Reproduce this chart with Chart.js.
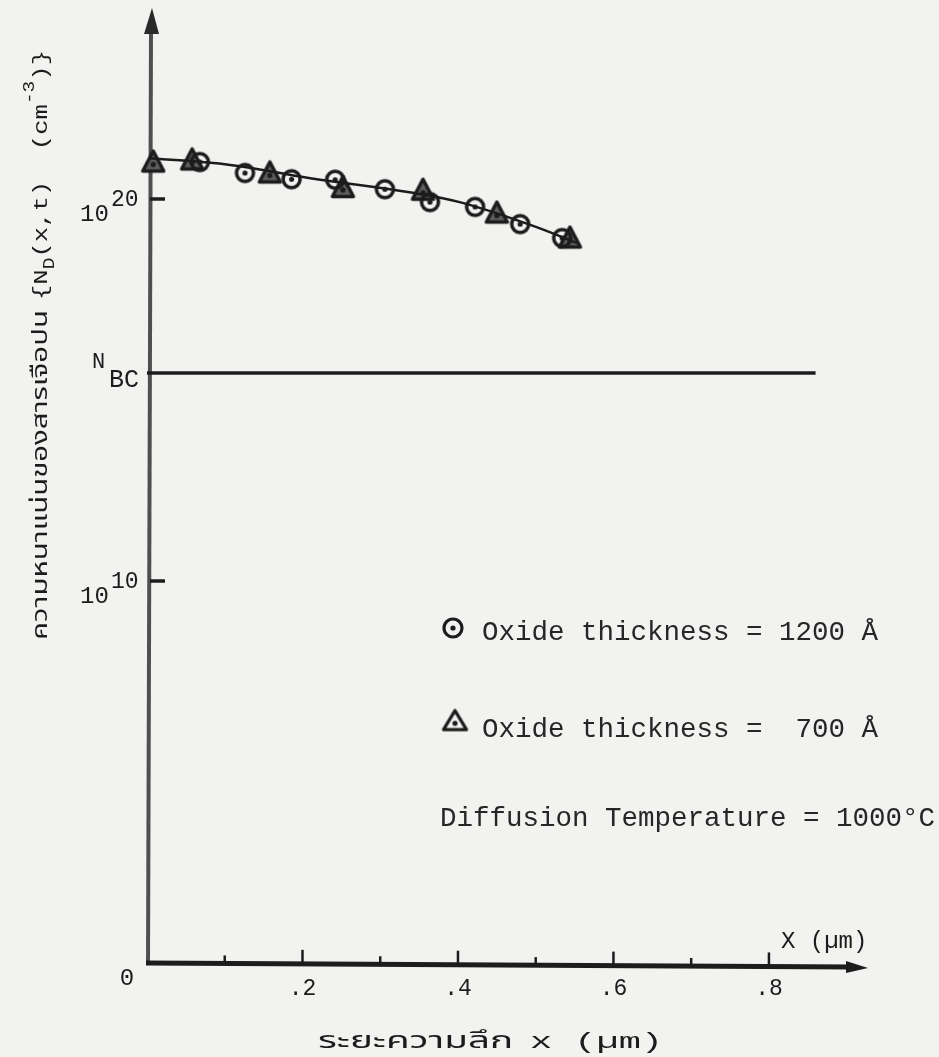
<!DOCTYPE html>
<html lang="th">
<head>
    <meta charset="UTF-8">
    <title>Impurity concentration profile</title>
    <style>
        html, body { margin: 0; padding: 0; background: #f3f3f1; }
        canvas { display: block; }
    </style>
</head>
<body>
    <canvas id="profileChart" width="939" height="1057"></canvas>
    <script src="https://cdn.jsdelivr.net/npm/chart.js@4.4.1/dist/chart.umd.min.js"></script>
    <script>
        // depth x (um) and concentration N_D (cm^-3)
        const xCircle = [0.068, 0.126, 0.186, 0.242, 0.306, 0.364, 0.422, 0.48, 0.534];
        const yCircle = [9.3e20, 4.8e20, 3.3e20, 3.2e20, 1.8e20, 8.3e19, 6.2e19, 2.2e19, 9.5e18];
        const xTriangle = [0.008, 0.058, 0.158, 0.252, 0.355, 0.45, 0.544];
        const yTriangle = [9.3e20, 1.05e21, 4.8e20, 2.0e20, 1.7e20, 4.3e19, 9.5e18];
        // hand drawn curve through the points
        const xFit = [0.004, 0.107, 0.21, 0.342, 0.406, 0.493, 0.553];
        const yFit = [1.17e21, 7.8e20, 3.5e20, 1.45e20, 7.9e19, 2.1e19, 7.1e18];
        // background concentration N_BC
        const nbcX = [0, 0.86];
        const nbcLevel = 2.8e15;

        const xTickValues = [0.2, 0.4, 0.6, 0.8];
        const xTickLabels = ['.2', '.4', '.6', '.8'];
        const xMinorTicks = [0.1, 0.3, 0.5, 0.7];
        const yTickValues = [1e20, 1e10];
        const yTickExps = ['20', '10'];

        const xMin = 0, xMax = 0.93, yMin = 1, yMax = 1e25;

        const mono = '"Liberation Mono", "DejaVu Sans Mono", monospace';
        const thai = '"Noto Sans Thai", "Loma", "Garuda", "Norasi", "Noto Sans", sans-serif';
        const ink = '#1c1c1c';

        // marker images
        function circleMark(r, lw) {
            const s = Math.ceil(2 * r + lw + 2);
            const c = document.createElement('canvas');
            c.width = s; c.height = s;
            const g = c.getContext('2d');
            g.strokeStyle = ink; g.lineWidth = lw;
            g.beginPath(); g.arc(s / 2, s / 2, r, 0, Math.PI * 2); g.stroke();
            g.fillStyle = ink;
            g.beginPath(); g.arc(s / 2, s / 2, 2.6, 0, Math.PI * 2); g.fill();
            return c;
        }

        function triangleMark(w, h, lw, fill) {
            const s = Math.ceil(Math.max(w, h) + lw + 2);
            const c = document.createElement('canvas');
            c.width = s; c.height = s;
            const g = c.getContext('2d');
            const cx = s / 2, cy = s / 2;
            g.beginPath();
            g.moveTo(cx, cy - h * 0.55);
            g.lineTo(cx + w / 2, cy + h * 0.45);
            g.lineTo(cx - w / 2, cy + h * 0.45);
            g.closePath();
            if (fill) { g.fillStyle = fill; g.fill(); }
            g.strokeStyle = ink; g.lineWidth = lw; g.lineJoin = 'round';
            g.stroke();
            g.fillStyle = ink;
            g.beginPath(); g.arc(cx, cy + h * 0.12, 2.6, 0, Math.PI * 2); g.fill();
            return c;
        }

        const circleImg = circleMark(8.5, 3.5);
        const triangleImg = triangleMark(21, 20, 3.5, '#5e5e5e');
        const legendCircle = circleMark(9, 3.2);
        const legendTriangle = triangleMark(23, 19, 3.2, null);

        // draws text runs along a line, squeezed to a given length
        function drawRuns(ctx, runs, length) {
            let total = 0;
            runs.forEach(r => { ctx.font = r.font; r.w = ctx.measureText(r.text).width; total += r.w + (r.gap || 0); });
            ctx.save();
            ctx.scale(length / total, 1);
            let x = 0;
            runs.forEach(r => {
                ctx.font = r.font;
                ctx.fillText(r.text, x, r.dy || 0);
                x += r.w + (r.gap || 0);
            });
            ctx.restore();
        }

        const paperAndAxes = {
            id: 'paperAndAxes',
            beforeDraw(chart) {
                const ctx = chart.ctx;
                ctx.save();
                ctx.fillStyle = '#f2f2f0';
                ctx.fillRect(0, 0, chart.width, chart.height);
                ctx.restore();
            },
            beforeDatasetsDraw(chart) {
                const ctx = chart.ctx;
                const xs = chart.scales.x, ys = chart.scales.y;
                const x0 = xs.getPixelForValue(0) + 1;
                const yb = ys.getPixelForValue(yMin);
                const yt = ys.getPixelForValue(yMax);
                const xr = xs.getPixelForValue(xMax);
                ctx.save();
                // y axis with arrow
                ctx.strokeStyle = '#4f4f4f';
                ctx.lineWidth = 4;
                ctx.beginPath(); ctx.moveTo(x0, yb + 2); ctx.lineTo(x0 + 3, yt + 22); ctx.stroke();
                ctx.fillStyle = '#2a2a2a';
                ctx.beginPath();
                ctx.moveTo(x0 + 4, yt); ctx.lineTo(x0 + 11, yt + 26); ctx.lineTo(x0 - 4, yt + 26);
                ctx.closePath(); ctx.fill();
                // x axis with arrow
                ctx.strokeStyle = ink;
                ctx.lineWidth = 5;
                ctx.beginPath(); ctx.moveTo(x0 - 2, yb); ctx.lineTo(xr - 18, yb + 4); ctx.stroke();
                ctx.fillStyle = ink;
                ctx.beginPath();
                ctx.moveTo(xr - 2, yb + 5); ctx.lineTo(xr - 24, yb - 2); ctx.lineTo(xr - 24, yb + 10);
                ctx.closePath(); ctx.fill();
                // x ticks, pointing up
                ctx.lineWidth = 2.5;
                xTickValues.forEach(v => {
                    const px = xs.getPixelForValue(v);
                    const dy = 4 * v / xMax;
                    ctx.beginPath(); ctx.moveTo(px, yb + dy); ctx.lineTo(px, yb + dy - 14); ctx.stroke();
                });
                xMinorTicks.forEach(v => {
                    const px = xs.getPixelForValue(v);
                    const dy = 4 * v / xMax;
                    ctx.beginPath(); ctx.moveTo(px, yb + dy); ctx.lineTo(px, yb + dy - 8); ctx.stroke();
                });
                // y ticks
                ctx.lineWidth = 3.5;
                yTickValues.forEach(v => {
                    const py = ys.getPixelForValue(v);
                    ctx.beginPath(); ctx.moveTo(x0 + 2, py); ctx.lineTo(x0 + 17, py); ctx.stroke();
                });
                ctx.restore();
            },
            afterDraw(chart) {
                const ctx = chart.ctx;
                const xs = chart.scales.x, ys = chart.scales.y;
                const x0 = xs.getPixelForValue(0);
                const yb = ys.getPixelForValue(yMin);
                ctx.save();
                ctx.fillStyle = ink;
                ctx.textBaseline = 'alphabetic';
                ctx.textAlign = 'left';

                // y tick labels 10^20, 10^10
                yTickValues.forEach((v, i) => {
                    const py = ys.getPixelForValue(v);
                    ctx.font = '24px ' + mono;
                    ctx.fillText('10', x0 - 67, py + 22);
                    ctx.font = '23px ' + mono;
                    ctx.fillText(yTickExps[i], x0 - 36, py + 7);
                });

                // N_BC label
                const pn = ys.getPixelForValue(nbcLevel);
                ctx.font = '22px ' + mono;
                ctx.fillText('N', x0 - 55, pn - 5);
                ctx.font = '25px ' + mono;
                ctx.fillText('BC', x0 - 38, pn + 14);

                // origin
                ctx.font = '24px ' + mono;
                ctx.textAlign = 'center';
                ctx.fillText('0', x0 - 20, yb + 22);
                ctx.textAlign = 'left';

                // x axis name at the arrow
                ctx.font = '24px ' + mono;
                ctx.fillText('X (\u00b5m)', 781, yb - 15);

                // legend
                ctx.drawImage(legendCircle, 453 - legendCircle.width / 2, 628 - legendCircle.height / 2);
                ctx.drawImage(legendTriangle, 455 - legendTriangle.width / 2, 721 - legendTriangle.height / 2);
                ctx.font = '27.5px ' + mono;
                ctx.fillStyle = '#262626';
                ctx.fillText('Oxide thickness = 1200 \u00c5', 482, 640);
                ctx.fillText('Oxide thickness =  700 \u00c5', 482, 737);
                ctx.fillText('Diffusion Temperature = 1000\u00b0C', 440, 826);

                // x title
                ctx.fillStyle = ink;
                ctx.save();
                ctx.translate(318, 1048);
                drawRuns(ctx, [
                    { text: 'ระยะความลึก', font: '23px ' + thai, gap: 10 },
                    { text: 'x (\u00b5m)', font: '22px ' + mono }
                ], 345);
                ctx.restore();

                // y title, rotated
                ctx.save();
                ctx.translate(47, 640);
                ctx.rotate(-Math.PI / 2);
                drawRuns(ctx, [
                    { text: 'ความหนาแน่นของสารเจือปน', font: '21px ' + thai }
                ], 330);
                ctx.translate(340, 0);
                drawRuns(ctx, [
                    { text: '{N', font: '21px ' + mono },
                    { text: 'D', font: '16px ' + mono, dy: 7 },
                    { text: '(x,t)  (cm', font: '21px ' + mono },
                    { text: '-3', font: '16px ' + mono, dy: -13 },
                    { text: ')}', font: '21px ' + mono }
                ], 250);
                ctx.restore();

                ctx.restore();
            }
        };

        function xy(xArr, yArr) {
            return xArr.map((x, i) => ({ x: x, y: yArr[i] }));
        }

        const ctx = document.getElementById('profileChart').getContext('2d');
        const profileChart = new Chart(ctx, {
            type: 'scatter',
            data: {
                datasets: [{
                    label: 'N_BC',
                    data: nbcX.map(x => ({ x: x, y: nbcLevel })),
                    showLine: true,
                    borderColor: ink,
                    borderWidth: 3.5,
                    pointRadius: 0,
                    clip: false
                }, {
                    label: 'fit',
                    data: xy(xFit, yFit),
                    showLine: true,
                    borderColor: ink,
                    borderWidth: 2.5,
                    tension: 0.4,
                    pointRadius: 0,
                    clip: false
                }, {
                    label: 'Oxide thickness = 1200 \u00c5',
                    data: xy(xCircle, yCircle),
                    pointStyle: circleImg,
                    clip: false
                }, {
                    label: 'Oxide thickness = 700 \u00c5',
                    data: xy(xTriangle, yTriangle),
                    pointStyle: triangleImg,
                    clip: false
                }]
            },
            options: {
                responsive: false,
                animation: false,
                devicePixelRatio: 1,
                layout: { padding: { left: 0, right: 69, top: 8, bottom: 0 } },
                plugins: {
                    legend: { display: false },
                    tooltip: { enabled: false }
                },
                scales: {
                    x: {
                        type: 'linear',
                        min: xMin,
                        max: xMax,
                        afterBuildTicks: s => { s.ticks = xTickValues.map(v => ({ value: v })); },
                        afterFit: s => { s.height = 94; },
                        grid: { display: false, drawTicks: false },
                        border: { display: false },
                        ticks: {
                            autoSkip: false,
                            maxRotation: 0,
                            padding: 12,
                            color: ink,
                            font: { family: mono, size: 23 },
                            callback: (v) => xTickLabels[xTickValues.indexOf(v)]
                        }
                    },
                    y: {
                        type: 'logarithmic',
                        min: yMin,
                        max: yMax,
                        afterFit: s => { s.width = 147; },
                        grid: { display: false, drawTicks: false },
                        border: { display: false },
                        ticks: { display: false }
                    }
                }
            },
            plugins: [paperAndAxes]
        });
    </script>
</body>
</html>
